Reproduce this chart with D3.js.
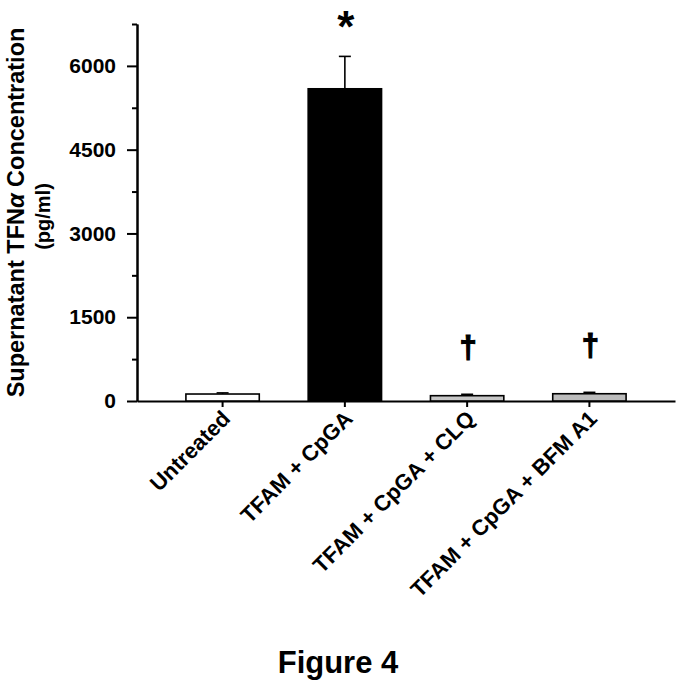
<!DOCTYPE html>
<html>
<head>
<meta charset="utf-8">
<script src="https://cdn.jsdelivr.net/npm/d3@7"></script>
<style>
  body { margin: 0; background: #fff; }
  svg { display: block; font-family: "Liberation Sans", Arial, sans-serif; }
  .axis path, .axis line { stroke: #000; stroke-width: 2px; }
  .axis text { font-weight: bold; fill: #000; }
</style>
</head>
<body>
<div id="chart"></div>
<script>
// values (pg/ml)
var categories = ['Untreated', 'TFAM + CpGA', 'TFAM + CpGA + CLQ', 'TFAM + CpGA + BFM A1']
var means = [125, 5590, 95, 130]
var errors = [20, 580, 25, 25]
var marks = ['', '*', '\u2020', '\u2020']
var majorTicks = [0, 1500, 3000, 4500, 6000]
var minorTicks = [750, 2250, 3750, 5250, 6750]

var fills = ['#ffffff', '#000000', '#c6c6c6', '#bcbcbc']

var width = 683, height = 688
var x0 = 137, x1 = 675, yBase = 401, yTop = 24

var svg = d3.select('#chart').append('svg')
    .attr('width', width)
    .attr('height', height)

var x = d3.scaleBand()
    .domain(categories)
    .range([x0, x1])
    .paddingInner(0.4)
    .paddingOuter(0.4)

var y = d3.scaleLinear()
    .domain([0, 6750])
    .range([yBase, yTop])

var data = categories.map(function(c, i) {
  return {name: c, mean: means[i], err: errors[i], mark: marks[i], fill: fills[i]}
})

// y axis: minor ticks then major ticks with labels
svg.append('g')
    .attr('class', 'axis')
    .attr('transform', 'translate(' + x0 + ',0)')
    .call(d3.axisLeft(y).tickValues(minorTicks).tickSize(5).tickSizeOuter(0).tickFormat(''))

var yAxis = svg.append('g')
    .attr('class', 'axis')
    .attr('transform', 'translate(' + x0 + ',0)')
    .call(d3.axisLeft(y).tickValues(majorTicks).tickSize(10).tickSizeOuter(0).tickPadding(11).tickFormat(d3.format('d')))

yAxis.selectAll('text').style('font-size', '21px')

// x axis
var xAxis = svg.append('g')
    .attr('class', 'axis')
    .attr('transform', 'translate(0,' + yBase + ')')
    .call(d3.axisBottom(x).tickSize(6).tickSizeOuter(0))

xAxis.selectAll('text')
    .style('font-size', '22px')
    .style('text-anchor', 'end')
    .attr('dy', null)
    .attr('y', 0)
    .attr('transform', 'translate(9,19) rotate(-45)')

// bars
svg.append('g')
  .selectAll('rect')
    .data(data)
  .enter().append('rect')
    .attr('x', function(d) { return x(d.name) })
    .attr('y', function(d) { return y(d.mean) })
    .attr('width', x.bandwidth())
    .attr('height', function(d) { return y(0) - y(d.mean) })
    .attr('fill', function(d) { return d.fill })
    .attr('stroke', '#000')
    .attr('stroke-width', 1.6)

// error bars (upper only)
var eb = svg.append('g').selectAll('g')
    .data(data)
  .enter().append('g')
    .attr('transform', function(d) { return 'translate(' + (x(d.name) + x.bandwidth() / 2) + ',0)' })

eb.append('line')
    .attr('y1', function(d) { return y(d.mean) })
    .attr('y2', function(d) { return y(d.mean + d.err) })
    .attr('stroke', '#000')
    .attr('stroke-width', 1.6)

eb.append('line')
    .attr('x1', -6).attr('x2', 6)
    .attr('y1', function(d) { return y(d.mean + d.err) })
    .attr('y2', function(d) { return y(d.mean + d.err) })
    .attr('stroke', '#000')
    .attr('stroke-width', 1.6)

// significance marks
eb.append('text')
    .attr('x', 1)
    .attr('y', function(d) {
      return d.mark == '*' ? y(d.mean + d.err) - 14 : y(d.mean + d.err) - 36
    })
    .attr('text-anchor', 'middle')
    .attr('font-weight', 'bold')
    .attr('font-size', function(d) { return d.mark == '*' ? '44px' : '31px' })
    .attr('stroke', '#000')
    .attr('stroke-width', function(d) { return d.mark == '*' ? 0 : 1.2 })
    .text(function(d) { return d.mark })

// y title
var title = svg.append('text')
    .attr('transform', 'translate(24,' + ((yBase + yTop) / 2) + ') rotate(-90)')
    .attr('text-anchor', 'middle')
    .attr('font-weight', 'bold')
    .attr('font-size', '23.5px')
title.append('tspan').text('Supernatant TFN')
title.append('tspan').attr('font-style', 'italic').text('\u03b1')
title.append('tspan').text(' Concentration')

svg.append('text')
    .attr('transform', 'translate(50,' + ((yBase + yTop) / 2 + 4) + ') rotate(-90)')
    .attr('text-anchor', 'middle')
    .attr('font-weight', 'bold')
    .attr('font-size', '20px')
    .text('(pg/ml)')

svg.append('text')
    .attr('x', 338)
    .attr('y', 673)
    .attr('text-anchor', 'middle')
    .attr('font-weight', 'bold')
    .attr('font-size', '31px')
    .text('Figure 4')
</script>
</body>
</html>
